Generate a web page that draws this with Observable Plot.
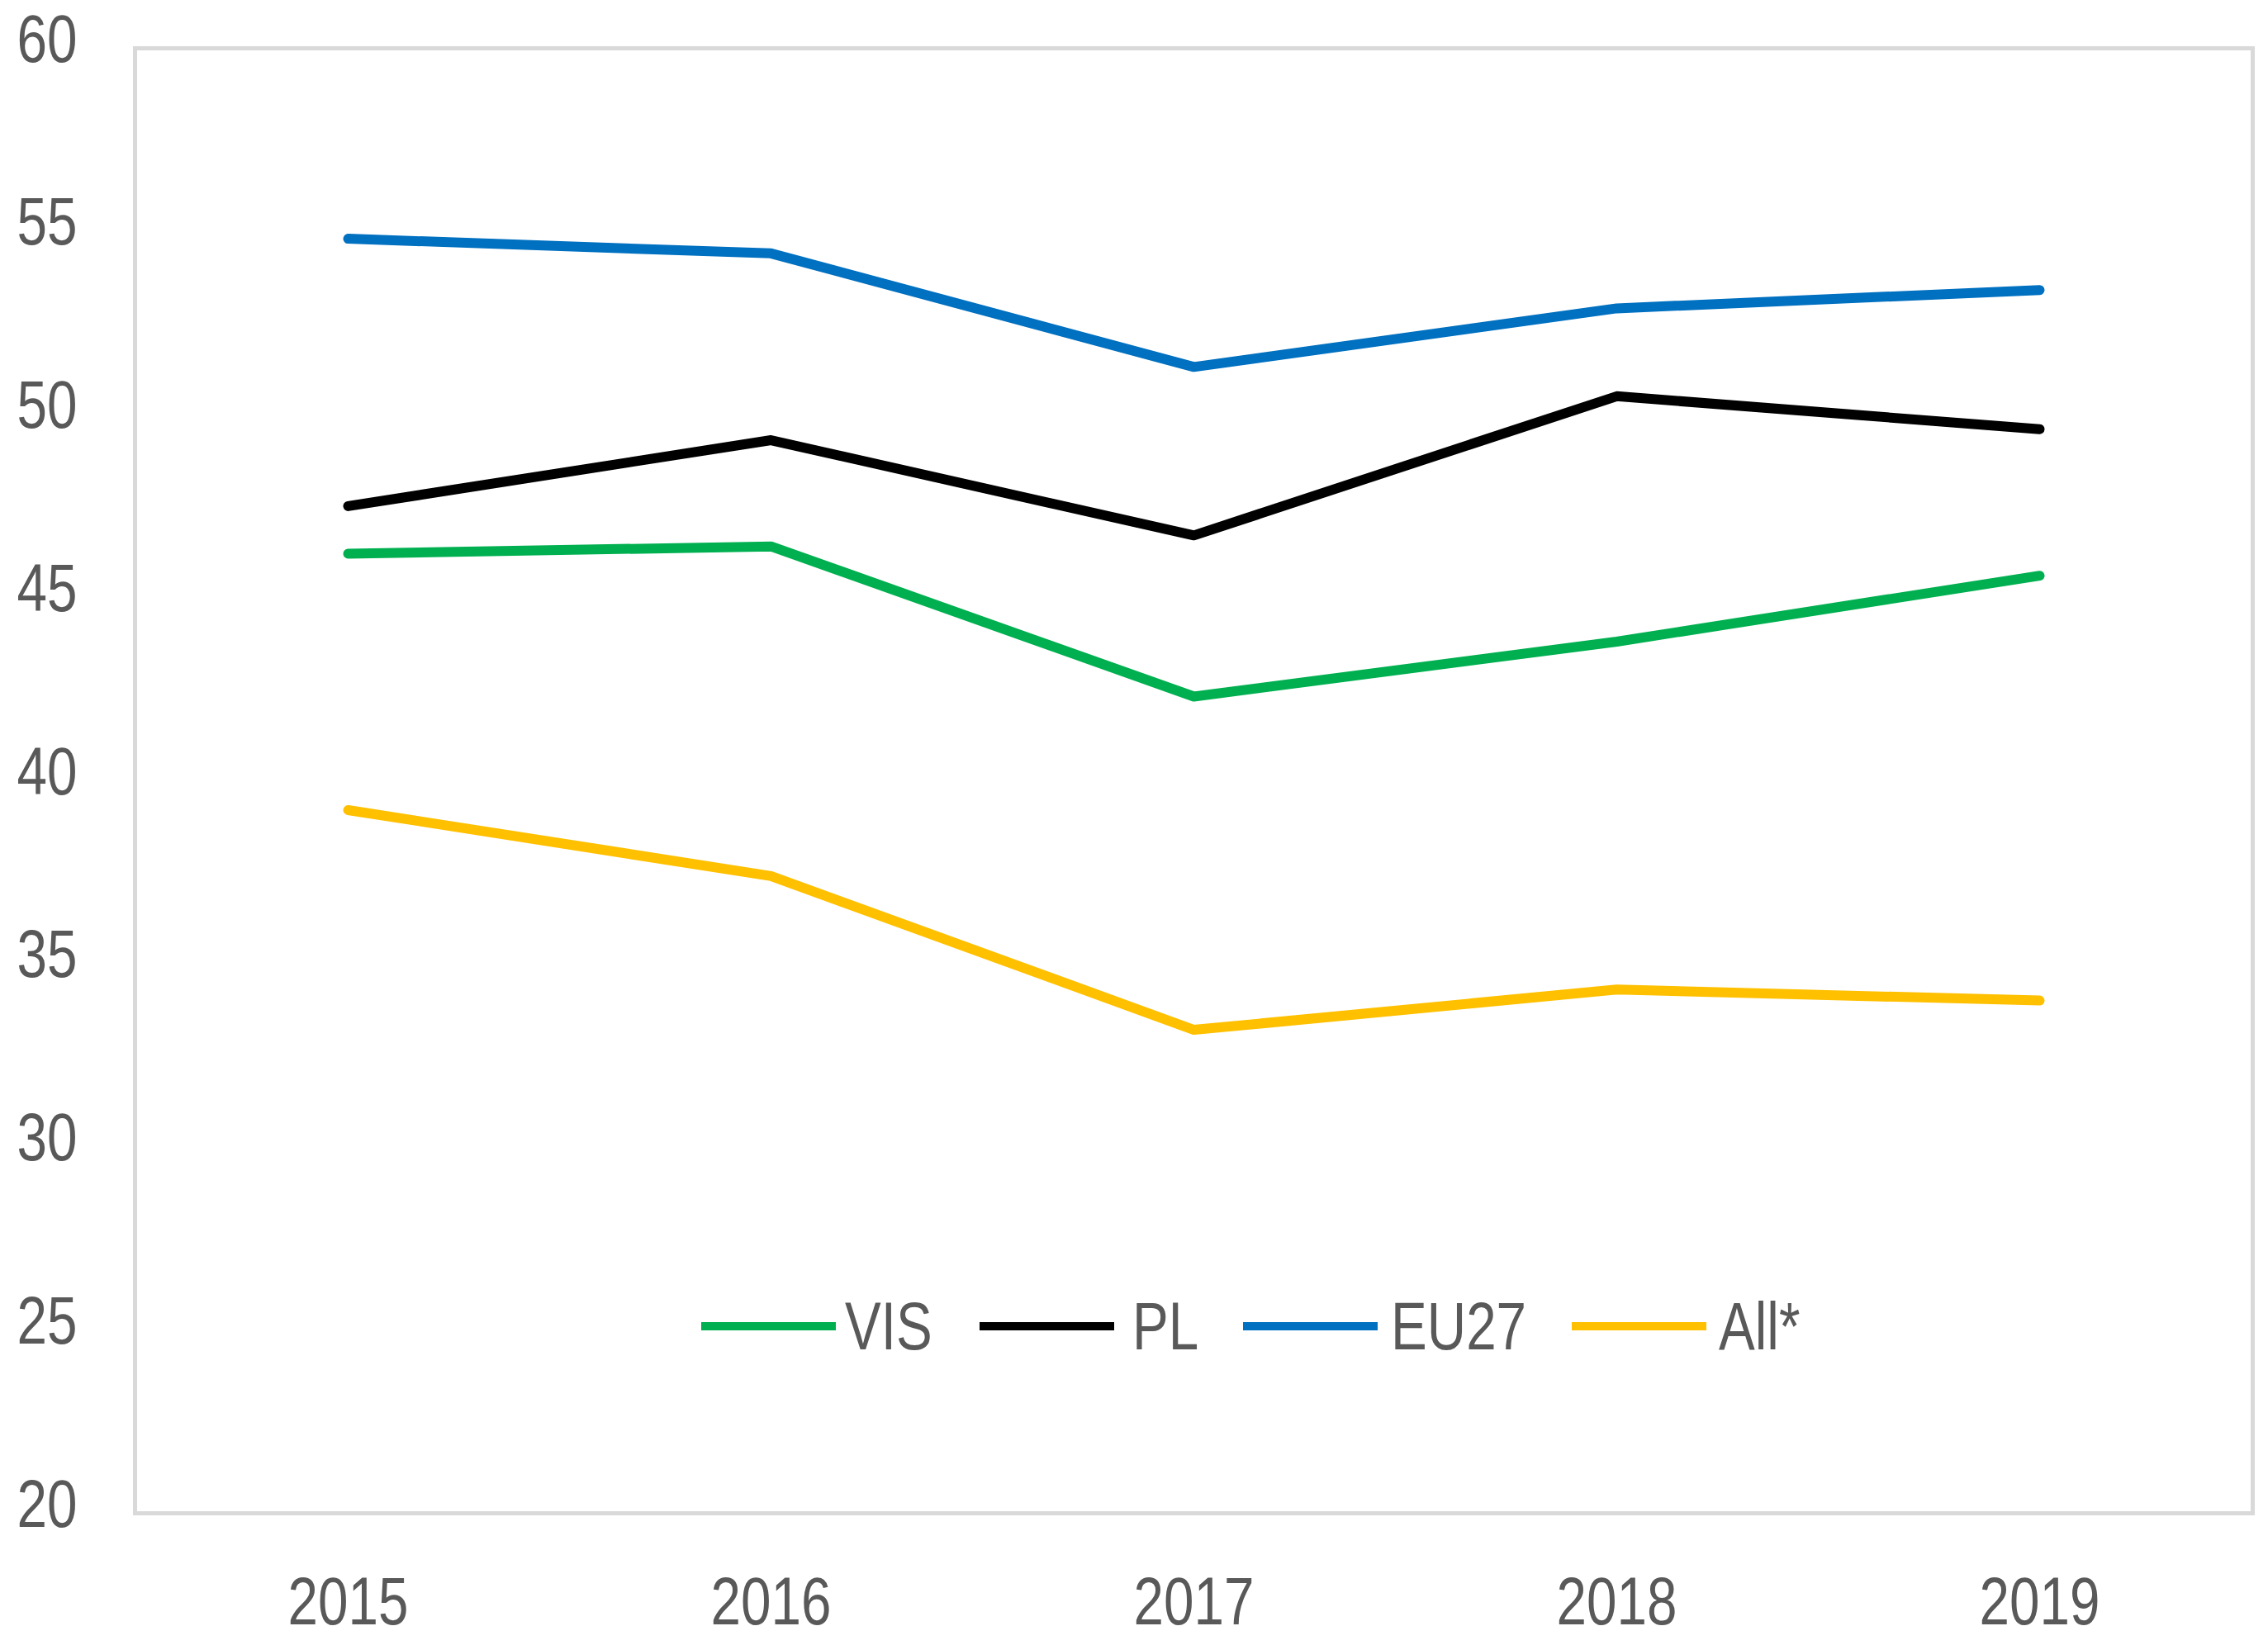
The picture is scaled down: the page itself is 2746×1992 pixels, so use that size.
<!DOCTYPE html>
<html>
<head>
<meta charset="utf-8">
<script src="https://cdn.jsdelivr.net/npm/d3@7"></script>
<script src="https://cdn.jsdelivr.net/npm/@observablehq/plot@0.6"></script>
<style>
  html, body { margin: 0; padding: 0; background: #ffffff; }
  #wrap { position: relative; width: 2746px; height: 1992px; }
  .sw { position: absolute; width: 163px; height: 10px; }
  .lab {
    position: absolute; white-space: nowrap; line-height: 1;
    font-family: "Liberation Sans", Arial, sans-serif;
    font-size: 82px; color: #595959;
    transform: scaleX(0.8); transform-origin: left center;
  }
</style>
</head>
<body>
<div id="wrap"></div>
<script>
const years = ["2015", "2016", "2017", "2018", "2019"];
const vis = [46.2, 46.4, 42.3, 43.8, 45.6];
const pl = [47.5, 49.3, 46.7, 50.5, 49.6];
const eu27 = [54.8, 54.4, 51.3, 52.9, 53.4];
const allStar = [39.2, 37.4, 33.2, 34.3, 34.0];
const seriesNames = ["VIS", "PL", "EU27", "All*"];
const seriesColors = ["#00B050", "#000000", "#0070C0", "#FFC000"];
const yTicks = [20, 25, 30, 35, 40, 45, 50, 55, 60];

const seriesValues = [vis, pl, eu27, allStar];
const table = [];
seriesNames.forEach((name, i) => {
  years.forEach((yr, j) => table.push({ series: name, year: yr, value: seriesValues[i][j] }));
});

const chart = Plot.plot({
  width: 2746,
  height: 1992,
  marginLeft: 163,
  marginRight: 19,
  marginTop: 58,
  marginBottom: 160,
  style: {
    fontFamily: '"Liberation Sans", Arial, sans-serif',
    fontSize: "82px",
    color: "#595959",
    background: "#ffffff"
  },
  x: { type: "point", domain: years, padding: 0.5, axis: null },
  y: { domain: [20, 60], axis: null },
  color: { domain: seriesNames, range: seriesColors },
  marks: [
    Plot.frame({ stroke: "#d9d9d9", strokeWidth: 5 }),
    Plot.axisY({ ticks: yTicks, tickSize: 0, tickPadding: 70, fontSize: 82, dy: -10, label: null }),
    Plot.axisX({ tickSize: 0, tickPadding: 76, fontSize: 82, label: null }),
    Plot.line(table, { x: "year", y: "value", z: "series", stroke: "series", strokeWidth: 12 })
  ]
});

// condense the axis text horizontally around each label's anchor
d3.select(chart).selectAll("g[aria-label$='tick label'] text").each(function () {
  const t = this.getAttribute("transform") || "";
  const xa = this.getAttribute("x");
  const x = xa !== null && /^-?[\d.]+$/.test(xa) ? +xa : 0;
  this.setAttribute("transform", `${t} translate(${x},0) scale(0.8,1) translate(${-x},0)`);
});

const wrap = document.getElementById("wrap");
wrap.appendChild(chart);

// legend inside the plot area
const legendLines = [849, 1186, 1505, 1903];
const legendTexts = [1023, 1371, 1684, 2081];
const legendY = 1606;
seriesNames.forEach((name, i) => {
  const sw = document.createElement("div");
  sw.className = "sw";
  sw.style.left = legendLines[i] + "px";
  sw.style.top = (legendY - 5) + "px";
  sw.style.background = seriesColors[i];
  wrap.appendChild(sw);
  const lab = document.createElement("div");
  lab.className = "lab";
  lab.textContent = name;
  lab.style.left = legendTexts[i] + "px";
  lab.style.top = (legendY - 41) + "px";
  wrap.appendChild(lab);
});
</script>
</body>
</html>
